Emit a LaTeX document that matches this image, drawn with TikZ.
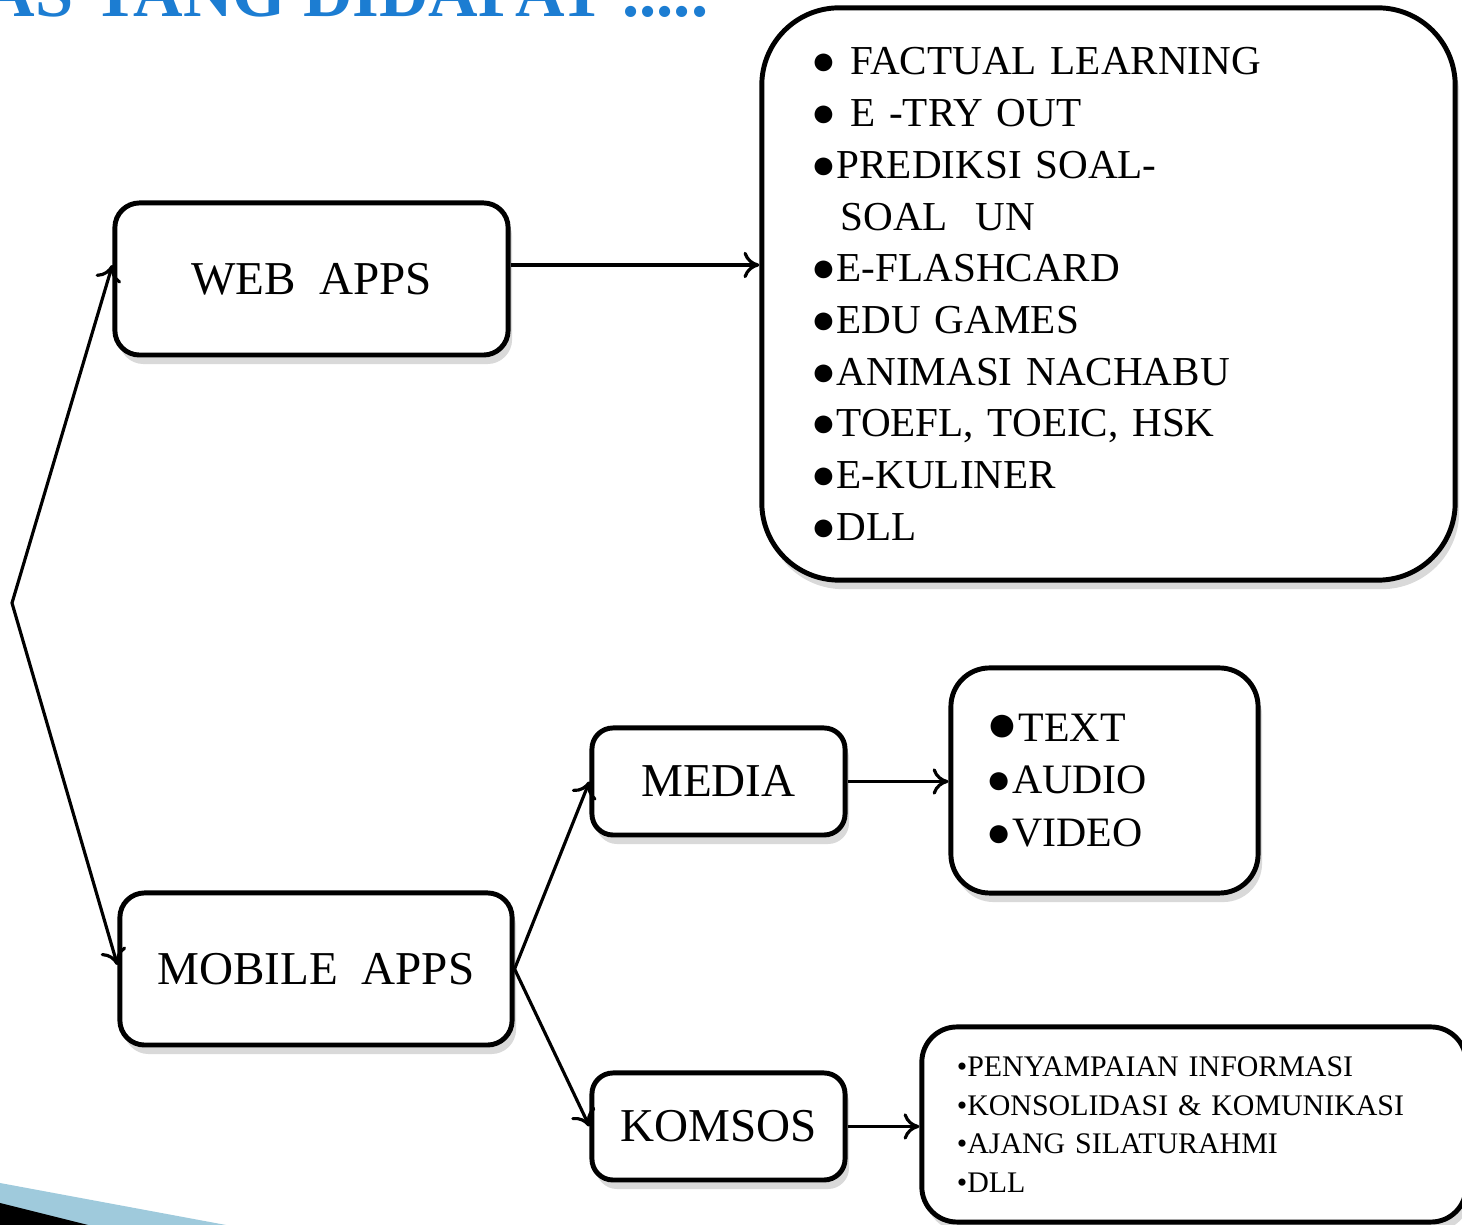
\documentclass[tikz,border=0pt]{standalone}
\usepackage{fontspec}
\setmainfont{Liberation Serif}
\usetikzlibrary{arrows.meta}
\usetikzlibrary{shadows}
\definecolor{judulbiru}{HTML}{1C7DD2}
\definecolor{pitabiru}{HTML}{9FCADC}

\begin{document}
\begin{tikzpicture}[x=0.01cm,y=-0.01cm,
    kotak/.style={draw, line width=1.4pt, fill=white, inner sep=0pt,
      drop shadow={shadow xshift=0.4mm, shadow yshift=-0.9mm, opacity=0.3}},
    label/.style={font=\fontsize{13.4}{16}\selectfont},
    panah/.style={line width=0.9pt, -{To[length=4.5pt,width=7.5pt]}},
    panah2/.style={line width=0.9pt, {To[length=4.5pt,width=7.5pt]}-{To[length=4.5pt,width=7.5pt]}}]
        \useasboundingbox (0,0) rectangle (1462,1225);
        \clip (0,0) rectangle (1462,1225);
        %
        \node [anchor=base west, inner sep=0pt, text=judulbiru,
          font=\fontsize{19.5}{20}\selectfont\bfseries] (judul) at (-15,17) {AS YANG DIDAPAT .....};
        %
        \fill [pitabiru] (0,1183) -- (226,1225) -- (0,1225) -- cycle;
        \fill [black] (0,1203) -- (88,1225) -- (0,1225) -- cycle;
        %
        \node [kotak, label, rounded corners=7pt, minimum width=3.93cm, minimum height=1.52cm]
          (web) at (311.5,279) {WEB\ \ APPS};
        \node [kotak, label, rounded corners=7pt, minimum width=3.92cm, minimum height=1.52cm]
          (mobile) at (316,969) {MOBILE\ \ APPS};
        \node [kotak, label, rounded corners=6pt, minimum width=2.53cm, minimum height=1.07cm]
          (media) at (718.5,781.5) {MEDIA};
        \node [kotak, label, rounded corners=6pt, minimum width=2.53cm, minimum height=1.07cm]
          (komsos) at (718.5,1126.5) {KOMSOS};
        %
        \node [kotak, rounded corners=22pt, minimum width=6.93cm, minimum height=5.72cm,
          inner xsep=0.5cm, text width=5.93cm, align=left,
          font=\fontsize{11.7}{14.7}\selectfont] (daftar) at (1108.5,294)
          {● FACTUAL LEARNING\\
           ● E -TRY OUT\\
           ●PREDIKSI SOAL-\\
           \hspace*{0.7em}SOAL\ \ UN\\
           ●E-FLASHCARD\\
           ●EDU GAMES\\
           ●ANIMASI NACHABU\\
           ●TOEFL, TOEIC, HSK\\
           ●E-KULINER\\
           ●DLL};
        \node [kotak, rounded corners=11pt, minimum width=3.07cm, minimum height=2.25cm,
          inner xsep=0.36cm, text width=2.35cm, align=left,
          font=\fontsize{11.9}{15}\selectfont] (jenis) at (1104.5,780.5)
          {{\fontsize{15}{15}\selectfont●}TEXT\\
           ●AUDIO\\
           ●VIDEO};
        \node [kotak, rounded corners=10pt, minimum width=5.44cm, minimum height=1.95cm,
          inner xsep=0.35cm, text width=4.74cm, align=left,
          font=\fontsize{8.5}{11}\selectfont] (info) at (1194,1124.5)
          {•PENYAMPAIAN INFORMASI\\
           •KONSOLIDASI \& KOMUNIKASI\\
           •AJANG SILATURAHMI\\
           •DLL};
        %
        \coordinate (cabang) at (12,603);
        \draw [panah2, line join=miter] ([yshift=0.14cm]web.west) -- (cabang) -- ([yshift=0.04cm]mobile.west);
        \draw [panah] ([yshift=0.14cm]web.east) -- ([yshift=0.14cm]web.east -| daftar.west);
        \draw [panah] (mobile.east) -- (media.west);
        \draw [panah] (mobile.east) -- (komsos.west);
        \draw [panah] (media.east) -- (media.east -| jenis.west);
        \draw [panah] (komsos.east) -- (komsos.east -| info.west);
      \end{tikzpicture}
\end{document}
